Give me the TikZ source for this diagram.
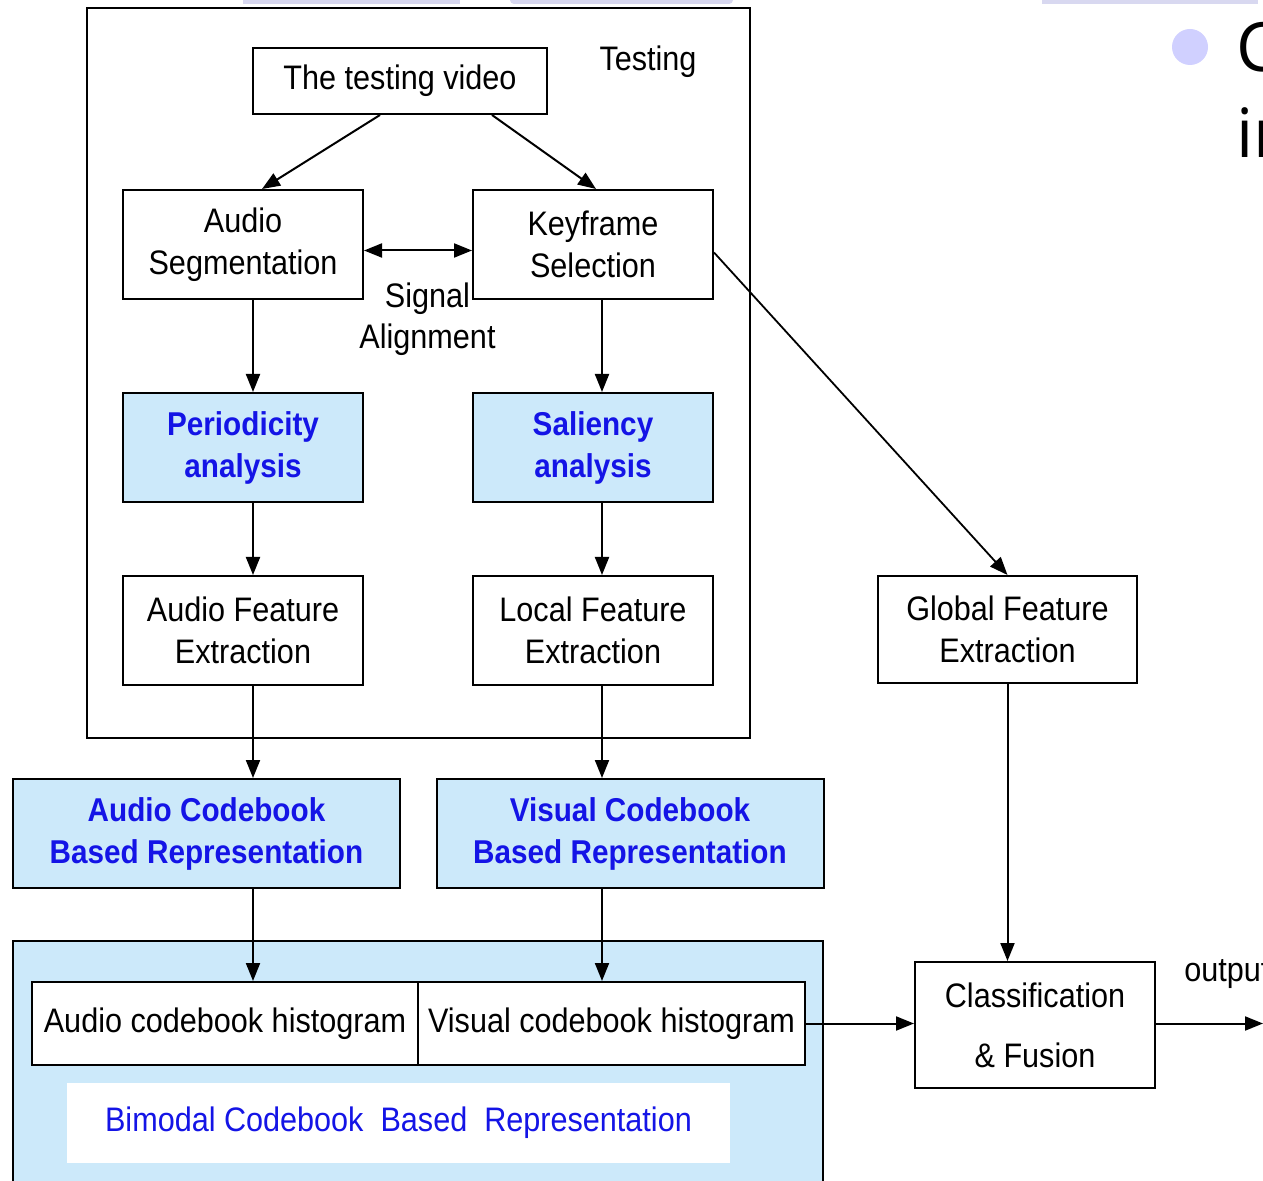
\documentclass[tikz,border=0pt]{standalone}
\usepackage{fontspec}
\setmainfont{Liberation Sans}[FakeStretch=0.9]
\newfontfamily\slidefont{Open Sans}
\usetikzlibrary{arrows.meta}
\definecolor{boxblue}{HTML}{CCE9FA}
\definecolor{textblue}{HTML}{1414E6}
\definecolor{lav}{HTML}{D8D8F0}
\definecolor{bullet}{HTML}{D0D0FF}
\tikzset{
  box/.style={draw, line width=1pt, fill=white, align=center, inner sep=0pt,
    font=\fontsize{17}{21}\selectfont},
  bluebox/.style={box, fill=boxblue, text=textblue,
    font=\fontsize{16.5}{21}\selectfont\bfseries},
  arr/.style={-{Triangle[length=9pt,width=7pt]}, line width=1pt},
  darr/.style={{Triangle[length=9pt,width=7pt]}-{Triangle[length=9pt,width=7pt]}, line width=1pt},
  lbl/.style={align=center, inner sep=0pt, font=\fontsize{17}{20.5}\selectfont},
}
\begin{document}
\begin{tikzpicture}[x=0.5pt,y=-0.5pt]
\useasboundingbox (0,0) rectangle (1263,1181);
\fill[white] (0,0) rectangle (1263,1181);
% slide decorations
\fill[lav] (243,0) rectangle (460,4);
\fill[lav, rounded corners=2pt] (510,-4) rectangle (733,4);
\fill[lav] (1042,0) rectangle (1258,4);
\fill[bullet] (1190,47) circle[radius=9pt];
\node[anchor=base west, inner sep=0pt, font=\slidefont\fontsize{34}{40}\selectfont] (c1) at (1236,72) {C};
\node[anchor=base west, inner sep=0pt, font=\slidefont\fontsize{34}{40}\selectfont] (c2) at (1236,158) {in};
% testing frame
\draw[line width=1pt] (87,8) rectangle (750,738);
\node[lbl] (testing) at (648,62) {Testing};
% nodes
\node[box, minimum width=147pt, minimum height=33pt] (tv) at (400,81) {The testing video};
\node[box, minimum width=120pt, minimum height=54.5pt] (aseg) at (243,244.5) {Audio\\Segmentation};
\node[box, minimum width=120pt, minimum height=54.5pt] (kf) at (593,244.5) {Keyframe\\Selection};
\node[lbl] (sig) at (427.5,319.5) {Signal\\Alignment};
\node[bluebox, minimum width=120pt, minimum height=54.5pt] (peri) at (243,447.5) {Periodicity\\analysis};
\node[bluebox, minimum width=120pt, minimum height=54.5pt] (sal) at (593,447.5) {Saliency\\analysis};
\node[box, minimum width=120pt, minimum height=54.5pt] (afe) at (243,630.5) {Audio Feature\\Extraction};
\node[box, minimum width=120pt, minimum height=54.5pt] (lfe) at (593,630.5) {Local Feature\\Extraction};
\node[box, minimum width=129.5pt, minimum height=53.5pt] (gfe) at (1007.5,629.5) {Global Feature\\Extraction};
\node[bluebox, minimum width=193.5pt, minimum height=54.5pt] (acb) at (206.5,833.5) {Audio Codebook\\Based Representation};
\node[bluebox, minimum width=193.5pt, minimum height=54.5pt] (vcb) at (630,833.5) {Visual Codebook\\Based Representation};
% bimodal area
\fill[boxblue] (13,941) rectangle (823,1190);
\draw[line width=1pt] (13,1190) -- (13,941) -- (823,941) -- (823,1190);
\node[box, minimum width=193pt, minimum height=41.5pt] (hl) at (225,1023.5) {Audio codebook histogram};
\node[box, minimum width=193.5pt, minimum height=41.5pt] (hr) at (611.5,1023.5) {Visual codebook histogram};
\node[fill=white, minimum width=331.5pt, minimum height=40pt, inner sep=0pt, text=textblue,
  font=\fontsize{17}{21}\selectfont] (bim) at (398.5,1123) {Bimodal Codebook\ \ Based\ \ Representation};
\node[box, minimum width=120pt, minimum height=63pt, font=\fontsize{17}{30}\selectfont] (cf) at (1035,1025) {Classification\\\& Fusion};
\node[anchor=base west, inner sep=0pt, font=\fontsize{17}{20}\selectfont] (outl) at (1184,981) {output};
% helper coordinates
\coordinate (ax) at (253,0);
\coordinate (vx) at (602,0);
\coordinate (outp) at (1263,1023.5);
% connectors
\draw[arr] ([xshift=-10pt]tv.south) -- ([xshift=9.5pt]aseg.north);
\draw[arr] ([xshift=46pt]tv.south) -- ([xshift=1.5pt]kf.north);
\draw[darr] ([yshift=-3pt]aseg.east) -- ([yshift=-3pt]kf.west);
\draw[arr] (aseg.south -| ax) -- (peri.north -| ax);
\draw[arr] (kf.south -| vx) -- (sal.north -| vx);
\draw[arr] (peri.south -| ax) -- (afe.north -| ax);
\draw[arr] (sal.south -| vx) -- (lfe.north -| vx);
\draw[arr] (afe.south -| ax) -- (acb.north -| ax);
\draw[arr] (lfe.south -| vx) -- (vcb.north -| vx);
\draw[arr] (acb.south -| ax) -- (hl.north -| ax);
\draw[arr] (vcb.south -| vx) -- (hr.north -| vx);
\draw[arr, line width=0.9pt] ([yshift=-4pt]kf.east) -- (gfe.north);
\draw[arr] (gfe.south) -- (cf.north -| gfe.south);
\draw[arr] (hr.east) -- (hr.east -| cf.west);
\draw[arr] (cf.east |- outp) -- (outp);
\end{tikzpicture}
\end{document}
